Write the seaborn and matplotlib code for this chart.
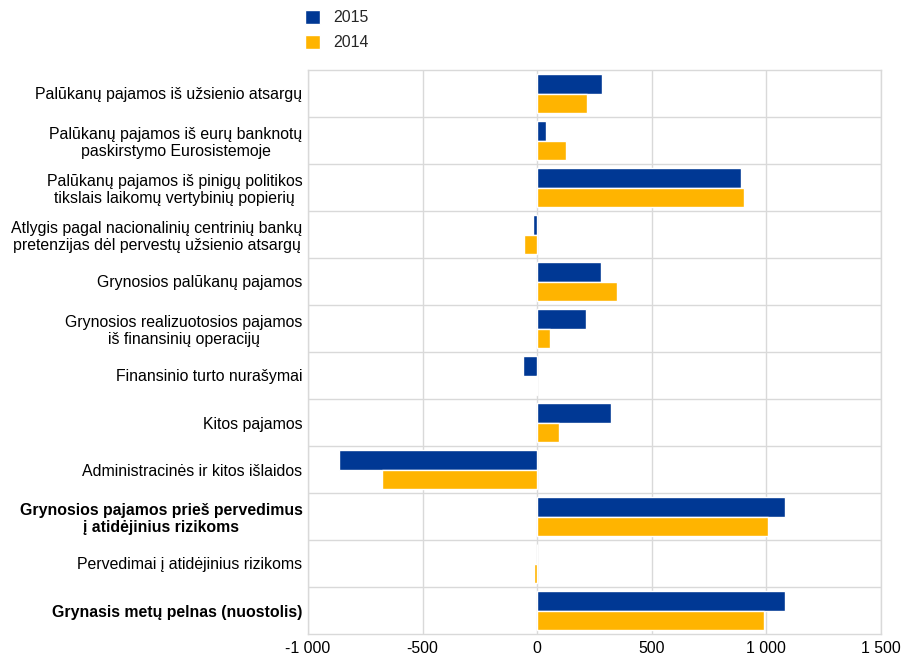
import pandas as pd
import seaborn as sns
import matplotlib.pyplot as plt
from matplotlib.ticker import FuncFormatter, FixedLocator
from matplotlib.patches import Patch

# Kategorijos (iš viršaus į apačią)
categories = [
    "Palūkanų pajamos iš užsienio atsargų",
    "Palūkanų pajamos iš eurų banknotų\npaskirstymo Eurosistemoje",
    "Palūkanų pajamos iš pinigų politikos\ntikslais laikomų vertybinių popierių",
    "Atlygis pagal nacionalinių centrinių bankų\npretenzijas dėl pervestų užsienio atsargų",
    "Grynosios palūkanų pajamos",
    "Grynosios realizuotosios pajamos\niš finansinių operacijų",
    "Finansinio turto nurašymai",
    "Kitos pajamos",
    "Administracinės ir kitos išlaidos",
    "Grynosios pajamos prieš pervedimus\nį atidėjinius rizikoms",
    "Pervedimai į atidėjinius rizikoms",
    "Grynasis metų pelnas (nuostolis)",
]
bold_rows = [9, 11]

values_2015 = [283, 40, 890, -17, 280, 214, -64, 320, -864, 1082, 0, 1082]
values_2014 = [217, 125, 903, -57, 348, 57, -7, 96, -677, 1005, -16, 989]

years = ["2015", "2014"]
colors = ["#003894", "#FFB400"]
x_ticks = [-1000, -500, 0, 500, 1000, 1500]

# Ilgas formatas seaborn'ui
df = pd.DataFrame({
    "kategorija": categories * 2,
    "metai": ["2015"] * len(categories) + ["2014"] * len(categories),
    "reiksme": values_2015 + values_2014,
})

sns.set_style("white")
plt.rcParams["font.family"] = ["Liberation Sans", "DejaVu Sans"]
fs = 11.4

fig = plt.figure(figsize=(9.02, 6.61), dpi=100)
ax = fig.add_axes([308 / 902, 1 - 634 / 661, (881 - 308) / 902, (634 - 70) / 661])

sns.barplot(data=df, y="kategorija", x="reiksme", hue="metai", hue_order=years,
            order=categories, palette=colors, orient="h", width=0.82,
            saturation=1, ax=ax, legend=False)

ax.set_xlim(-1000, 1500)
ax.set_ylim(len(categories) - 0.5, -0.5)
ax.xaxis.set_major_locator(FixedLocator(x_ticks))
ax.xaxis.set_major_formatter(FuncFormatter(lambda v, p: f"{int(v):,}".replace(",", " ")))

# Horizontalios skiriamosios linijos tarp kategorijų
ax.set_yticks([i + 0.5 for i in range(len(categories) - 1)], minor=True)
ax.grid(True, axis="x", which="major", color="#d9d9d9", linewidth=1)
ax.grid(True, axis="y", which="minor", color="#d9d9d9", linewidth=1)
ax.grid(False, axis="y", which="major")
ax.set_axisbelow(True)

for s in ax.spines.values():
    s.set_color("#d9d9d9")
    s.set_linewidth(1)

ax.tick_params(axis="both", which="both", length=0, labelsize=fs, colors="black")
ax.tick_params(axis="x", pad=5)
ax.tick_params(axis="y", pad=4)
for i, lbl in enumerate(ax.get_yticklabels()):
    lbl.set_multialignment("center")
    lbl.set_linespacing(1.15)
    if i in bold_rows:
        lbl.set_fontweight("bold")

ax.set_xlabel("")
ax.set_ylabel("")

handles = [Patch(facecolor=c, label=y) for c, y in zip(colors, years)]
fig.legend(handles=handles, loc="upper left", bbox_to_anchor=(0.338, 0.985),
           frameon=False, fontsize=fs, handlelength=0.95, handleheight=1.0,
           handletextpad=0.85, labelspacing=0.6, borderaxespad=0, borderpad=0)

plt.savefig("out.png", dpi=100)
